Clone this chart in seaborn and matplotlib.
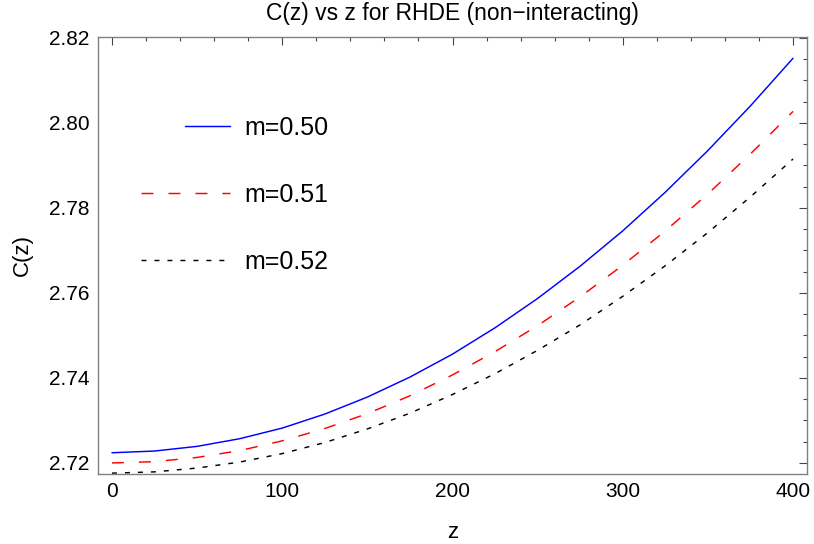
import numpy as np
import pandas as pd
import matplotlib
matplotlib.use("Agg")
import matplotlib.pyplot as plt
import seaborn as sns
from matplotlib.ticker import MultipleLocator

z_vals = [0, 25, 50, 75, 100, 125, 150, 175, 200, 225, 250, 275, 300, 325, 350, 375, 400]
c_m050 = [2.7224, 2.7228, 2.7239, 2.7257, 2.7282, 2.7315, 2.7355, 2.7402, 2.7456,
          2.7518, 2.7587, 2.7663, 2.7746, 2.7837, 2.7935, 2.8040, 2.8152]
c_m051 = [2.7200, 2.7203, 2.7213, 2.7229, 2.7252, 2.7281, 2.7316, 2.7358, 2.7407,
          2.7462, 2.7523, 2.7591, 2.7665, 2.7746, 2.7833, 2.7927, 2.8027]
c_m052 = [2.7176, 2.7179, 2.7188, 2.7202, 2.7222, 2.7248, 2.7280, 2.7317, 2.7361,
          2.7410, 2.7465, 2.7525, 2.7592, 2.7664, 2.7742, 2.7826, 2.7915]
labels = ["m=0.50", "m=0.51", "m=0.52"]

df = pd.DataFrame({
    "z": z_vals * 3,
    "C": c_m050 + c_m051 + c_m052,
    "m": [labels[0]] * len(z_vals) + [labels[1]] * len(z_vals) + [labels[2]] * len(z_vals),
})

sns.set_theme(style="white")
plt.rcParams["font.family"] = ["Liberation Sans", "DejaVu Sans"]
plt.rcParams["text.color"] = "black"
plt.rcParams["axes.labelcolor"] = "black"

fig = plt.figure(figsize=(8.14, 5.44), dpi=100)
ax = fig.add_axes([98 / 814, 1 - 474 / 544, 709 / 814, 437 / 544])

palette = {labels[0]: "#0000ff", labels[1]: "#ff0000", labels[2]: "#000000"}
sns.lineplot(data=df, x="z", y="C", hue="m", palette=palette, ax=ax,
             linewidth=1.05, legend=False, estimator=None)
dashes = [None, (8.2, 10.3), (3.4, 5.5)]
for line, d in zip(ax.get_lines(), dashes):
    if d is not None:
        line.set_dashes(d)

ax.set_xlim(-8.2, 408.2)
ax.set_ylim(2.7174, 2.8202)
ax.xaxis.set_major_locator(MultipleLocator(100))
ax.xaxis.set_minor_locator(MultipleLocator(20))
ax.yaxis.set_major_locator(MultipleLocator(0.02))
ax.yaxis.set_minor_locator(MultipleLocator(0.005))
ax.yaxis.set_major_formatter(matplotlib.ticker.FormatStrFormatter("%.2f"))

for s in ax.spines.values():
    s.set_color("#808080")
    s.set_linewidth(1.0)
ax.tick_params(which="both", direction="in", top=True, right=True,
               color="#444444", labelsize=15, labelcolor="black", width=0.8)
ax.tick_params(which="major", length=5.5, pad=6)
ax.tick_params(which="minor", length=3)

ax.set_xlabel("z", fontsize=16, labelpad=15)
ax.set_ylabel("C(z)", fontsize=16, labelpad=12)
ax.set_title("C(z) vs z for RHDE (non\u2212interacting)", fontsize=16.5, pad=12)

handles = ax.get_lines()
leg = ax.legend(handles, labels, loc="upper left", bbox_to_anchor=(0.0607, 0.82),
                frameon=False, fontsize=18, handlelength=3.55, handletextpad=0.6,
                labelspacing=1.72, borderpad=0, borderaxespad=0)

# the first legend sample is drawn shorter, as in the original
first = leg.get_lines()[0]
xd = np.asarray(first.get_xdata(), dtype=float)
first.set_xdata(np.linspace(xd[0] + 0.5 * (xd[-1] - xd[0]), xd[-1], len(xd)))

fig.savefig("out.png", dpi=100)
